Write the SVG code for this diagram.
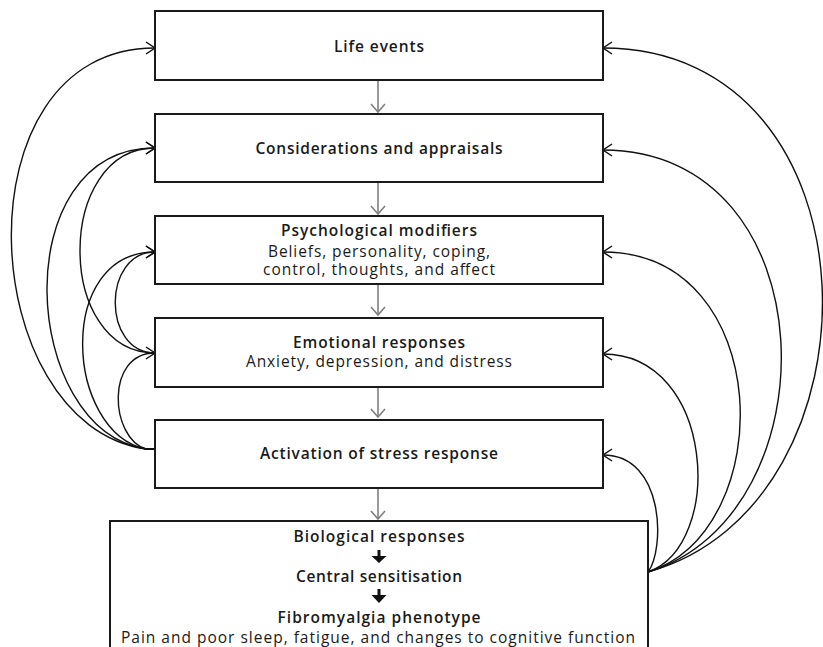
<svg xmlns="http://www.w3.org/2000/svg" width="823" height="647" viewBox="0 0 823 647">
<defs>
<style>
.box{fill:#fff;stroke:#1a1a1a;stroke-width:2}
.t{font-family:"Open Sans","Liberation Sans",sans-serif;font-size:15.5px;fill:#1a1a1a;text-anchor:middle}
.b{font-weight:600}
.c{fill:none;stroke:#111;stroke-width:1.4}
.g{fill:none;stroke:#808080;stroke-width:1.6}
</style>
<marker id="ah" markerUnits="userSpaceOnUse" viewBox="-12 -8 14 16" refX="0" refY="0" markerWidth="14" markerHeight="16" orient="auto">
<path d="M-9,-6 L0,0 L-9,6" fill="none" stroke="#111" stroke-width="1.5"/>
</marker>
<marker id="gh" markerUnits="userSpaceOnUse" viewBox="-12 -9 14 18" refX="0" refY="0" markerWidth="14" markerHeight="18" orient="auto">
<path d="M-8,-7 L0,0 L-8,7" fill="none" stroke="#808080" stroke-width="1.6"/>
</marker>
</defs>
<rect width="823" height="647" fill="#fff"/>
<g id="connectors">
<path class="g" d="M378,81 L378,112" marker-end="url(#gh)"/>
<path class="g" d="M378,183 L378,214" marker-end="url(#gh)"/>
<path class="g" d="M378,285 L378,315" marker-end="url(#gh)"/>
<path class="g" d="M378,388 L378,417" marker-end="url(#gh)"/>
<path class="g" d="M378,489 L378,519" marker-end="url(#gh)"/>
<path class="c" d="M155,449 L146,449 C-25,425 -45,48 155,48" marker-end="url(#ah)"/>
<path class="c" d="M155,449 L146,449 C20,430 5,148 155,148" marker-end="url(#ah)"/>
<path class="c" d="M155,449 L146,449 C65,432 55,252 155,252" marker-end="url(#ah)"/>
<path class="c" d="M155,449 L146,449 C110,438 105,353 155,353" marker-end="url(#ah)"/>
<path class="c" d="M155,353 C55,353 55,148 155,148" marker-end="url(#ah)"/>
<path class="c" d="M155,353 C102,353 102,252 155,252" marker-end="url(#ah)"/>
<path class="c" d="M648,572 C890,505 885,48 603,48" marker-end="url(#ah)"/>
<path class="c" d="M648,572 C835,515 830,150 603,150" marker-end="url(#ah)"/>
<path class="c" d="M648,572 C780,530 775,252 603,252" marker-end="url(#ah)"/>
<path class="c" d="M648,572 C725,545 715,354 603,354" marker-end="url(#ah)"/>
<path class="c" d="M648,572 C665,550 665,455 603,455" marker-end="url(#ah)"/>
</g>
<g id="life-events">
<rect class="box" x="155" y="11" width="448" height="69"/>
<text class="t b" x="379" y="52" textLength="90">Life events</text>
</g>
<g id="considerations">
<rect class="box" x="155" y="114" width="448" height="68"/>
<text class="t b" x="379" y="154" textLength="247">Considerations and appraisals</text>
</g>
<g id="psychological-modifiers">
<rect class="box" x="155" y="216" width="448" height="68"/>
<text class="t b" x="379" y="236" textLength="196">Psychological modifiers</text>
<text class="t" x="379" y="257" textLength="222">Beliefs, personality, coping,</text>
<text class="t" x="379" y="275" textLength="232">control, thoughts, and affect</text>
</g>
<g id="emotional-responses">
<rect class="box" x="155" y="318" width="448" height="69"/>
<text class="t b" x="379" y="348" textLength="172">Emotional responses</text>
<text class="t" x="379" y="367" textLength="266">Anxiety, depression, and distress</text>
</g>
<g id="stress-response">
<rect class="box" x="155" y="420" width="448" height="68"/>
<text class="t b" x="379" y="459" textLength="238">Activation of stress response</text>
</g>
<g id="biological-responses">
<rect class="box" x="110" y="521" width="538" height="150" stroke-width="1.6"/>
<text class="t b" x="379" y="542" textLength="171">Biological responses</text>
<path d="M379,550 L379,557" stroke="#111" stroke-width="3"/>
<polygon points="371.5,556 386.5,556 379,563" fill="#111"/>
<text class="t b" x="379" y="582" textLength="166">Central sensitisation</text>
<path d="M379,589 L379,596" stroke="#111" stroke-width="3"/>
<polygon points="371.5,595 386.5,595 379,603" fill="#111"/>
<text class="t b" x="379" y="623" textLength="203">Fibromyalgia phenotype</text>
<text class="t" x="378" y="643" textLength="514">Pain and poor sleep, fatigue, and changes to cognitive function</text>
</g>
</svg>
